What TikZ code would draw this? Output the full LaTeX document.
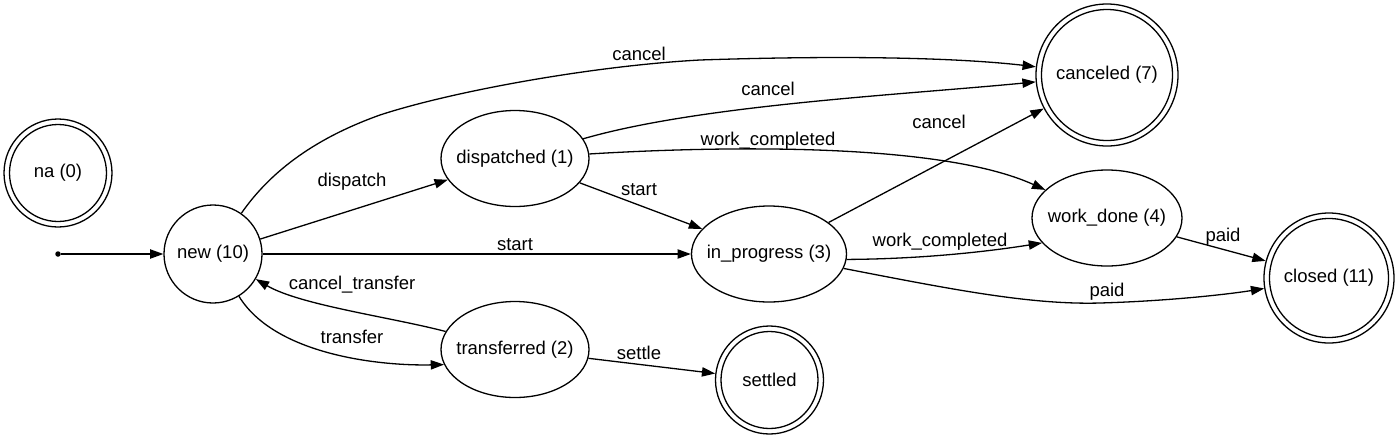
\documentclass[tikz,border=0pt]{standalone}
\usepackage{fontspec}
\setmainfont{Liberation Sans}
\usetikzlibrary{arrows.meta,shapes.geometric}
\newcommand{\nt}[1]{\makebox[0pt]{#1}}
\tikzset{
  base/.style={draw, line width=1.3pt, inner sep=0pt},
  stnode/.style={base, circle, minimum size=98pt},
  ellnode/.style={base, ellipse, minimum width=#1, minimum height=96pt},
  accnode/.style={base, circle, minimum size=#1},
  innerring/.style={line width=1.3pt},
  arr/.style={line width=1.3pt, -{Triangle[length=13.3pt,width=9.3pt]}},
  lbl/.style={inner sep=0pt},
}
\begin{document}
\begin{tikzpicture}[x=1pt,y=-1pt, every node/.append style={font=\fontsize{18.5}{22}\selectfont}]
\useasboundingbox (0,0) rectangle (1400,440);
% states
\node[accnode=108pt] (na) at (58,173) {\nt{na (0)}};
\draw[innerring] (na.center) circle[radius=48.5pt];
\node[circle, fill, inner sep=0pt, minimum size=5.5pt] (init) at (58,254) {};
\node[stnode] (new) at (213,254) {\nt{new (10)}};
\node[ellnode=148pt] (disp) at (515,158.5) {\nt{dispatched (1)}};
\node[ellnode=148pt] (trans) at (515,349.5) {\nt{transferred (2)}};
\node[ellnode=155pt] (inprog) at (769,254) {\nt{in\_progress (3)}};
\node[ellnode=150pt] (wd) at (1107,218) {\nt{work\_done (4)}};
\node[accnode=108pt] (settled) at (769.5,380) {\nt{settled}};
\draw[innerring] (settled.center) circle[radius=48.5pt];
\node[accnode=142pt] (canc) at (1107,75) {\nt{canceled (7)}};
\draw[innerring] (canc.center) circle[radius=65.5pt];
\node[accnode=130pt] (closed) at (1329,278) {\nt{closed (11)}};
\draw[innerring] (closed.center) circle[radius=59.5pt];
% transitions
\draw[arr] (init) -- (new);
\draw[arr] (new) .. controls (268,175) and (310,140) .. (380,115)
  .. controls (450,92) and (590,66) .. (700,60)
  .. controls (850,55) and (960,58) .. (canc)
  node[lbl] at (639,54) {cancel};
\draw[arr] (disp) .. controls (700,105) and (900,95) .. (canc)
  node[lbl] at (768,89) {cancel};
\draw[arr] (disp) .. controls (720,146) and (940,142) .. (wd)
  node[lbl] at (768,141) {work\_completed};
\draw[arr] (disp) -- (inprog) node[lbl] at (639,190) {start};
\draw[arr] (new) -- (disp) node[lbl] at (352,182) {dispatch};
\draw[arr] (new) -- (inprog) node[lbl] at (515,245) {start};
\draw[arr] (trans) .. controls (390,317) and (300,305) .. (new)
  node[lbl] at (352,285) {cancel\_transfer};
\draw[arr] (new) .. controls (275,355) and (380,366) .. (trans.192)
  node[lbl] at (352,337) {transfer};
\draw[arr] (trans) -- (settled) node[lbl] at (639,353) {settle};
\draw[arr] (inprog) -- (canc) node[lbl] at (939,122) {cancel};
\draw[arr] (inprog.-4) .. controls (920,259) and (985,252) .. (wd.201)
  node[lbl] at (940,242) {work\_completed};
\draw[arr] (inprog) .. controls (950,289) and (1030,305) .. (1100,303)
  .. controls (1170,301) and (1230,294) .. (closed)
  node[lbl] at (1107,292) {paid};
\draw[arr] (wd) -- (closed) node[lbl] at (1223,237) {paid};
\end{tikzpicture}
\end{document}
